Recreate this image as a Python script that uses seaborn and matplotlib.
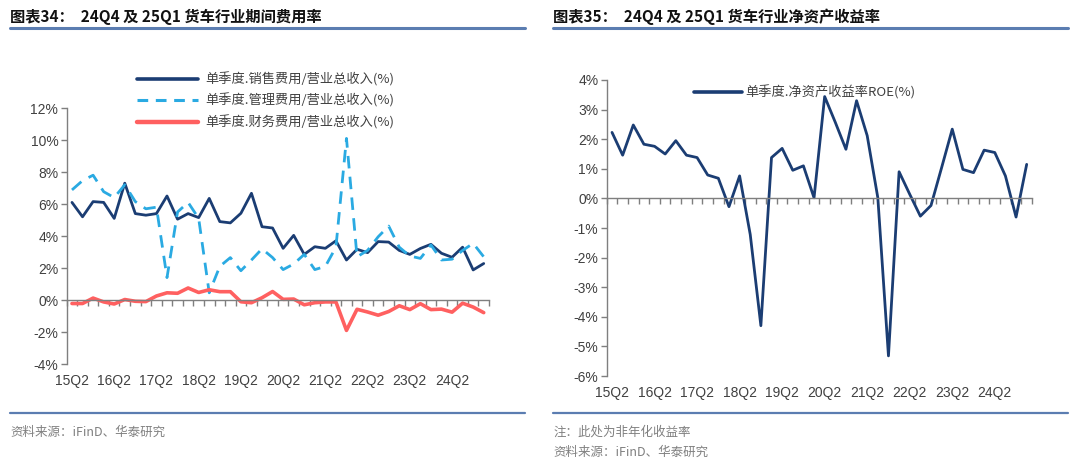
import numpy as np
import pandas as pd
import matplotlib
matplotlib.use('Agg')
import matplotlib.pyplot as plt
import matplotlib.transforms as mtransforms
from matplotlib.lines import Line2D
import seaborn as sns

quarters = ['15Q2', '15Q3', '15Q4', '16Q1', '16Q2', '16Q3', '16Q4', '17Q1',
            '17Q2', '17Q3', '17Q4', '18Q1', '18Q2', '18Q3', '18Q4', '19Q1',
            '19Q2', '19Q3', '19Q4', '20Q1', '20Q2', '20Q3', '20Q4', '21Q1',
            '21Q2', '21Q3', '21Q4', '22Q1', '22Q2', '22Q3', '22Q4', '23Q1',
            '23Q2', '23Q3', '23Q4', '24Q1', '24Q2', '24Q3', '24Q4', '25Q1']

# 期间费用率 (%)
sales_ratio = [6.1, 5.2, 6.15, 6.1, 5.1, 7.3, 5.4, 5.3, 5.4, 6.5,
               5.05, 5.4, 5.15, 6.35, 4.9, 4.82, 5.42, 6.67, 4.58, 4.5,
               3.23, 4.04, 2.85, 3.33, 3.23, 3.7, 2.5, 3.17, 2.96, 3.65,
               3.62, 3.1, 2.85, 3.22, 3.48, 2.92, 2.67, 3.3, 1.88, 2.28]
admin_ratio = [6.88, 7.46, 7.8, 6.77, 6.4, 7.2, 6.15, 5.7, 5.8, 1.4,
               5.5, 6.1, 5.1, 0.45, 2.1, 2.65, 1.83, 2.5, 3.2, 2.65,
               1.9, 2.25, 2.85, 1.9, 2.1, 3.3, 10.1, 2.7, 3.1, 3.95,
               4.62, 3.3, 2.75, 2.6, 3.44, 2.5, 2.55, 3.1, 3.54, 2.7]
fin_ratio = [-0.22, -0.22, 0.12, -0.12, -0.25, 0.03, -0.08, -0.1, 0.25, 0.45,
             0.42, 0.75, 0.47, 0.64, 0.52, 0.52, -0.11, -0.17, 0.14, 0.53,
             0.04, 0.06, -0.3, -0.17, -0.12, -0.12, -1.9, -0.58, -0.75, -0.95,
             -0.72, -0.36, -0.6, -0.23, -0.6, -0.57, -0.76, -0.2, -0.44, -0.79]

# 净资产收益率 ROE (%)
roe = [2.23, 1.46, 2.48, 1.83, 1.76, 1.5, 1.95, 1.46, 1.38, 0.79,
       0.68, -0.28, 0.76, -1.22, -4.3, 1.38, 1.69, 0.95, 1.1, 0.02,
       3.44, 2.57, 1.66, 3.3, 2.12, 0.02, -5.32, 0.9, 0.14, -0.6,
       -0.24, 1.04, 2.34, 0.98, 0.87, 1.63, 1.55, 0.76, -0.63, 1.15]

label_quarters = quarters[::4]

NAVY = '#1B3D73'
LIGHT = '#2AAAE2'
RED = '#FF6060'
RULE = '#5B7DB1'
TEXT = '#404040'
GREY = '#808080'

sns.set_theme(style='white')
plt.rcParams['font.family'] = ['Liberation Sans', 'Noto Sans CJK SC', 'DejaVu Sans']
CJK = ['Noto Sans CJK SC', 'DejaVu Sans']

W, H = 1080, 465
fig = plt.figure(figsize=(W / 100, H / 100), dpi=100)


def px_axes(x0, x1, ytop, ybot):
    return fig.add_axes([x0 / W, (H - ybot) / H, (x1 - x0) / W, (ybot - ytop) / H])


def style_axes(ax, ymin, ymax, step, axis_px_height, label_offset_px):
    n = len(quarters)
    ax.set_xlim(-0.5, n - 0.5)
    ax.set_ylim(ymin, ymax)
    ax.set_yticks(np.arange(ymin, ymax + step / 2, step))
    ax.set_yticklabels([f'{v:.0f}%' for v in np.arange(ymin, ymax + step / 2, step)],
                       color=TEXT, fontsize=10)
    for s in ['top', 'right']:
        ax.spines[s].set_visible(False)
    ax.spines['left'].set_color('#7F7F7F')
    ax.spines['left'].set_linewidth(1.0)
    ax.spines['bottom'].set_position(('data', 0))
    ax.spines['bottom'].set_color('#7F7F7F')
    ax.spines['bottom'].set_linewidth(1.0)
    ax.set_xticks(np.arange(n + 1) - 0.5)
    ax.set_xticklabels([])
    ax.tick_params(axis='x', direction='in', length=0)
    ax.tick_params(axis='x', which='major', direction='out', length=4,
                   color='#7F7F7F', width=1.0, bottom=True)
    ax.tick_params(axis='y', direction='out', length=4, color='#7F7F7F',
                   width=1.0, left=True, pad=2)
    ax.set_xlabel('')
    ax.set_ylabel('')
    ax.grid(False)
    trans = mtransforms.blended_transform_factory(ax.transData, ax.transAxes)
    for i, q in enumerate(quarters):
        if q in label_quarters:
            ax.text(i, -label_offset_px / axis_px_height, q, transform=trans,
                    ha='center', va='center', fontsize=10, color=TEXT)


# ---- left: 期间费用率
ax1 = px_axes(66.7, 489, 108, 364)
x = np.arange(len(quarters))
df_cost = pd.DataFrame({'x': x, 'sales': sales_ratio, 'admin': admin_ratio, 'fin': fin_ratio})
sns.lineplot(data=df_cost, x='x', y='sales', ax=ax1, color=NAVY, linewidth=2.0)
sns.lineplot(data=df_cost, x='x', y='admin', ax=ax1, color=LIGHT, linewidth=2.0)
ax1.lines[-1].set_dashes([4.5, 3])
sns.lineplot(data=df_cost, x='x', y='fin', ax=ax1, color=RED, linewidth=2.6)
style_axes(ax1, -4, 12, 2, 256, 17)

handles1 = [Line2D([], [], color=NAVY, lw=2.6),
            Line2D([], [], color=LIGHT, lw=2.2, dashes=[3.5, 2.5]),
            Line2D([], [], color=RED, lw=3.2)]
labels1 = ['单季度.销售费用/营业总收入(%)', '单季度.管理费用/营业总收入(%)',
           '单季度.财务费用/营业总收入(%)']
fig.legend(handles1, labels1, loc='upper left', bbox_to_anchor=(137 / W, 1 - 72 / H),
           frameon=False, handlelength=4.6, handletextpad=0.55, labelspacing=0.55,
           borderpad=0, borderaxespad=0, prop={'family': CJK, 'size': 9.5},
           labelcolor=TEXT)

# ---- right: ROE
ax2 = px_axes(606.7, 1032, 80, 376)
df_roe = pd.DataFrame({'x': x, 'roe': roe})
sns.lineplot(data=df_roe, x='x', y='roe', ax=ax2, color=NAVY, linewidth=2.0)
style_axes(ax2, -6, 4, 1, 296, 17)

fig.legend([Line2D([], [], color=NAVY, lw=2.6)], ['单季度.净资产收益率ROE(%)'],
           loc='upper left', bbox_to_anchor=(694 / W, 1 - 85 / H), frameon=False,
           handlelength=3.6, handletextpad=0.3, borderpad=0, borderaxespad=0,
           prop={'family': CJK, 'size': 9.5}, labelcolor=TEXT)

# ---- titles, rules, footers
for x0, x1, title in [(10, 525, '图表34：  24Q4 及 25Q1 货车行业期间费用率'),
                      (553, 1068, '图表35：  24Q4 及 25Q1 货车行业净资产收益率')]:
    fig.text(x0 / W, 1 - 17 / H, title, ha='left', va='center', fontsize=11,
             fontweight='bold', family=CJK, color='#111111')
    fig.add_artist(Line2D([x0 / W, x1 / W], [1 - 28 / H, 1 - 28 / H],
                          color=RULE, lw=2.2, transform=fig.transFigure))
    fig.add_artist(Line2D([x0 / W, x1 / W], [1 - 413 / H, 1 - 413 / H],
                          color=RULE, lw=1.6, transform=fig.transFigure))

fig.text(10 / W, 1 - 432 / H, '资料来源：iFinD、华泰研究', ha='left', va='center',
         fontsize=9, family=CJK, color=GREY)
fig.text(553 / W, 1 - 432 / H, '注：此处为非年化收益率', ha='left', va='center',
         fontsize=9, family=CJK, color=GREY)
fig.text(553 / W, 1 - 452 / H, '资料来源：iFinD、华泰研究', ha='left', va='center',
         fontsize=9, family=CJK, color=GREY)

fig.savefig('out.png', dpi=100)
